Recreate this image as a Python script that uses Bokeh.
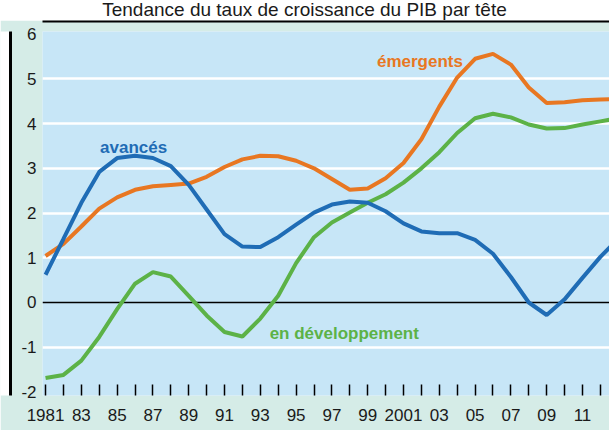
from bokeh.plotting import figure
from bokeh.models import Div, Span, Label, FixedTicker, LinearAxis
from bokeh.layouts import column
from bokeh.embed import file_html
from bokeh.resources import INLINE

# ---------------- data ----------------
years = list(range(1981, 2014))
avances = [0.62, 1.42, 2.23, 2.92, 3.23, 3.28, 3.23, 3.05, 2.63, 2.08,
           1.53, 1.25, 1.24, 1.46, 1.74, 2.01, 2.19, 2.26, 2.23, 2.04,
           1.77, 1.59, 1.55, 1.55, 1.40, 1.09, 0.57, 0.00, -0.28, 0.07,
           0.55, 1.02, 1.43]
emergents = [1.04, 1.31, 1.70, 2.10, 2.35, 2.52, 2.60, 2.63, 2.66, 2.81,
             3.03, 3.20, 3.28, 3.27, 3.17, 3.00, 2.76, 2.52, 2.55, 2.78,
             3.12, 3.65, 4.38, 5.03, 5.45, 5.56, 5.32, 4.81, 4.46, 4.48,
             4.52, 4.54, 4.55]
developpement = [-1.69, -1.62, -1.30, -0.77, -0.15, 0.42, 0.68, 0.58, 0.15, -0.29,
                 -0.66, -0.76, -0.36, 0.15, 0.88, 1.46, 1.79, 2.01, 2.23, 2.42,
                 2.68, 3.00, 3.36, 3.79, 4.12, 4.22, 4.14, 3.98, 3.89, 3.90,
                 3.98, 4.05, 4.12]
x_ticks = list(range(1981, 2013))
x_tick_labels = {1981: "1981", 1983: "83", 1985: "85", 1987: "87", 1989: "89",
                 1991: "91", 1993: "93", 1995: "95", 1997: "97", 1999: "99",
                 2001: "2001", 2003: "03", 2005: "05", 2007: "07", 2009: "09",
                 2011: "11"}
y_ticks = [-2, -1, 0, 1, 2, 3, 4, 5, 6]
y_tick_labels = {-2: "-2", -1: "-1", 0: "0", 1: "1", 2: "2", 3: "3", 4: "4", 5: "5", 6: "6"}
grid_ticks = [-1, 1, 2, 3, 4, 5]
title_text = "Tendance du taux de croissance du PIB par tête"

# ---------------- style ----------------
BLUE = "#1f6cb5"
ORANGE = "#e87722"
GREEN = "#5cb247"
PANEL = "#c7e6f7"
OUTER = "#d5ece7"
FONT = "Liberation Sans"
W, H_TITLE, H_FIG = 609, 20, 410

p = figure(width=W, height=H_FIG, x_range=(1980.83, 2012.51), y_range=(-2.08, 6.06),
           output_backend="svg", toolbar_location=None,
           min_border_left=40, min_border_right=0, min_border_top=0, min_border_bottom=35)
p.title.visible = False
p.background_fill_color = PANEL
p.border_fill_color = OUTER
p.outline_line_color = None

p.xgrid.grid_line_color = None
p.ygrid.ticker = FixedTicker(ticks=grid_ticks)
p.ygrid.grid_line_color = "white"
p.ygrid.grid_line_width = 2.5

xa = p.xaxis[0]
xa.ticker = FixedTicker(ticks=x_ticks)
xa.major_label_overrides = {y: x_tick_labels.get(y, "") for y in x_ticks}
xa.axis_line_color = None
xa.major_tick_in = 11
xa.major_tick_out = 0
xa.major_tick_line_color = "black"
xa.major_tick_line_width = 1.5
xa.minor_tick_line_color = None
xa.major_label_text_font = FONT
xa.major_label_text_font_size = "17px"
xa.major_label_text_color = "#1a1a1a"
xa.major_label_standoff = 13

ya = p.yaxis[0]
ya.ticker = FixedTicker(ticks=y_ticks)
ya.major_label_overrides = y_tick_labels
ya.axis_line_color = None
ya.major_tick_in = 0
ya.major_tick_out = 0
ya.major_tick_line_color = None
ya.minor_tick_line_color = None
ya.major_label_text_font = FONT
ya.major_label_text_font_size = "17px"
ya.major_label_text_color = "#1a1a1a"
ya.major_label_standoff = 6


# plain axes used only as panel spacers / black rules of the chart box
def rule_axis(size, anchor, line_color=None, line_width=1, bounds="auto", fill=None):
    ax = LinearAxis(ticker=FixedTicker(ticks=[anchor]), axis_line_color=line_color,
                    axis_line_width=line_width, major_tick_out=size, major_tick_in=0,
                    minor_tick_out=0, minor_tick_in=0, major_label_standoff=0,
                    major_tick_line_color=None, minor_tick_line_color=None,
                    major_label_overrides={anchor: ""}, major_label_text_font_size="0px",
                    bounds=bounds)
    if fill is not None and "background_fill_color" in ax.properties():
        ax.background_fill_color = fill
    return ax


p.add_layout(rule_axis(10, 1995), "above")
p.add_layout(rule_axis(1, 1995, "black", 2, bounds=(1979.1, 2013.5)), "above")
p.add_layout(rule_axis(8, 2), "left")
p.add_layout(rule_axis(10, 2, "black", 3, bounds=(-2.9, 6.3), fill="white"), "left")

zero = Span(location=0, dimension="width", line_color="black", line_width=1.5, level="underlay")
p.add_layout(zero)

p.line(years, emergents, line_color=ORANGE, line_width=4)
p.line(years, developpement, line_color=GREEN, line_width=4)
p.line(years, avances, line_color=BLUE, line_width=4)

for txt, lx, ly, col in [("avancés", 1985.92, 3.47, BLUE),
                         ("émergents", 2001.92, 5.40, ORANGE),
                         ("en développement", 1997.69, -0.70, GREEN)]:
    p.add_layout(Label(x=lx, y=ly, text=txt, text_align="center", text_baseline="alphabetic",
                       text_font=FONT, text_font_style="bold", text_font_size="17px",
                       text_color=col))

title_div = Div(text=title_text, width=W, height=H_TITLE, margin=0,
                styles={"font-family": FONT, "font-size": "19px", "line-height": "20px",
                        "text-align": "center", "color": "#1a1a1a", "white-space": "nowrap"})

layout = column(title_div, p, spacing=0)

open("out.html", "w").write(file_html(layout, INLINE))
